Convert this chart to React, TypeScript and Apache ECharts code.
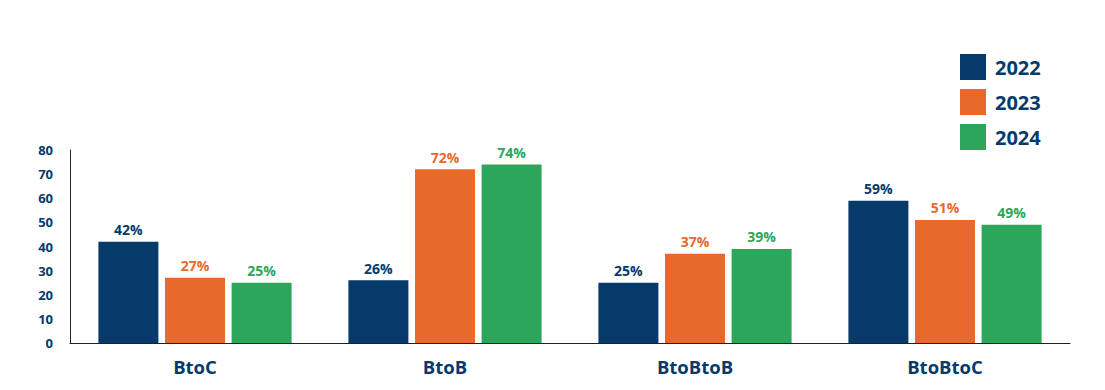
import React, { useEffect, useRef } from "react";
import * as echarts from "echarts";

const categories = ["BtoC", "BtoB", "BtoBtoB", "BtoBtoC"];
const seriesNames = ["2022", "2023", "2024"];
const values2022 = [42, 26, 25, 59];
const values2023 = [27, 72, 37, 51];
const values2024 = [25, 74, 39, 49];
const colors = ["#053a6b", "#e9692c", "#2ca65a"];

export default function App() {
  const ref = useRef<HTMLDivElement>(null);
  useEffect(() => {
    document.body.style.margin = "0";
    const chart = echarts.init(ref.current!, null, { renderer: "svg" });
    const font = "'Open Sans', 'Noto Sans', sans-serif";
    const data = [values2022, values2023, values2024];
    chart.setOption({
      animation: false,
      textStyle: { fontFamily: font },
      grid: { left: 70, right: 35, top: 150, bottom: 47 },
      legend: {
        orient: "vertical",
        left: 955,
        top: 49,
        itemWidth: 26,
        itemHeight: 26,
        itemGap: 9,
        icon: "rect",
        data: seriesNames,
        textStyle: { color: "#053a6b", fontSize: 20, fontWeight: "bold", fontFamily: font, padding: [0, 0, 0, 4] },
      },
      xAxis: {
        type: "category",
        data: categories,
        axisLine: { lineStyle: { color: "#222", width: 1 } },
        axisTick: { inside: true, length: 4, lineStyle: { color: "#222" } },
        axisLabel: { color: "#053a6b", fontSize: 18.5, fontWeight: "bold", margin: 14, fontFamily: font },
      },
      yAxis: {
        type: "value",
        min: 0,
        max: 80,
        interval: 10,
        axisLine: { show: true, lineStyle: { color: "#222", width: 1 } },
        axisTick: { show: false },
        splitLine: { show: false },
        axisLabel: { color: "#053a6b", fontSize: 13, fontWeight: "bold", margin: 17, fontFamily: font },
      },
      series: seriesNames.map((name, i) => ({
        name,
        type: "bar",
        data: data[i],
        barWidth: 60,
        barGap: "11%",
        itemStyle: { color: colors[i] },
        label: {
          show: true,
          position: "top",
          distance: 5,
          formatter: "{c}%",
          color: colors[i],
          fontSize: 14,
          fontWeight: "bold",
          fontFamily: font,
        },
      })),
    });
    return () => chart.dispose();
  }, []);
  return <div ref={ref} style={{ width: 1105, height: 390 }} />;
}
